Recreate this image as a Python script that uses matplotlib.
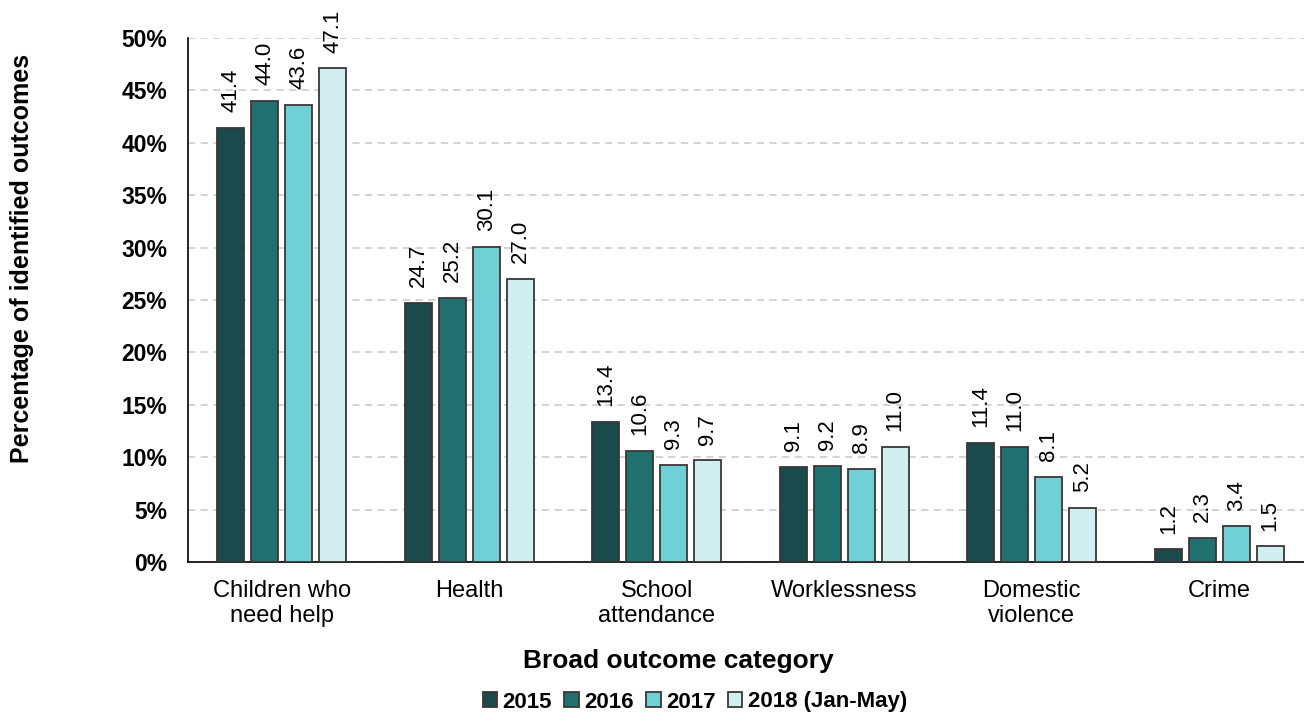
import matplotlib.pyplot as plt
import numpy as np

plt.rcParams['font.family'] = ['Liberation Sans', 'DejaVu Sans']

categories = ["Children who\nneed help", "Health", "School\nattendance",
              "Worklessness", "Domestic\nviolence", "Crime"]
years = ["2015", "2016", "2017", "2018 (Jan-May)"]
v2015 = [41.4, 24.7, 13.4, 9.1, 11.4, 1.2]
v2016 = [44.0, 25.2, 10.6, 9.2, 11.0, 2.3]
v2017 = [43.6, 30.1, 9.3, 8.9, 8.1, 3.4]
v2018 = [47.1, 27.0, 9.7, 11.0, 5.2, 1.5]
series = [v2015, v2016, v2017, v2018]
colors = ["#1b4a4c", "#217070", "#6fd1d5", "#d1eef0"]

fig = plt.figure(figsize=(13.04, 7.2), dpi=100)
ax = fig.add_axes([188/1304, 1-562/720, (1304-188)/1304, 524/720])

x = np.arange(len(categories))
w = 0.145
step = 0.181
for i, (vals, c, lab) in enumerate(zip(series, colors, years)):
    pos = x + (i - 1.5) * step
    ax.bar(pos, vals, w, color=c, edgecolor="#3b3536", linewidth=1.3,
           label=lab, zorder=3)
    for xp, v in zip(pos, vals):
        ax.text(xp, v + 1.5, f"{v:.1f}", rotation=90, ha="center", va="bottom",
                fontsize=16)

ax.set_xlim(-0.5, 5.452)
ax.set_ylim(0, 50)
ax.set_yticks(np.arange(0, 51, 5))
ax.set_yticklabels([f"{t}%" for t in range(0, 51, 5)], fontsize=16.5, fontweight="bold")
ax.set_xticks(x)
ax.set_xticklabels(categories, fontsize=17, linespacing=1.15)
ax.tick_params(axis="x", length=0, pad=13)
ax.tick_params(axis="y", length=0, pad=15)
ax.grid(axis="y", color="#d0d0d0", linestyle=(0, (4, 3)), linewidth=1.3, zorder=0)
for s in ["top", "right"]:
    ax.spines[s].set_visible(False)
ax.spines["left"].set_linewidth(1.2)
ax.spines["bottom"].set_linewidth(1.2)

fig.text(22/1304, 1-258/720, "Percentage of identified outcomes", rotation=90,
         ha="center", va="center", fontsize=18, fontweight="bold")
fig.text(678/1304, 1-661/720, "Broad outcome category", ha="center", va="center",
         fontsize=19, fontweight="bold")

fig.legend(loc="center", bbox_to_anchor=(695/1304, 1-702/720), ncol=4,
           frameon=False, prop={"weight": "bold", "size": 16},
           handlelength=0.65, handleheight=0.65, handletextpad=0.25,
           columnspacing=0.55)

fig.savefig("out.png", dpi=100)
